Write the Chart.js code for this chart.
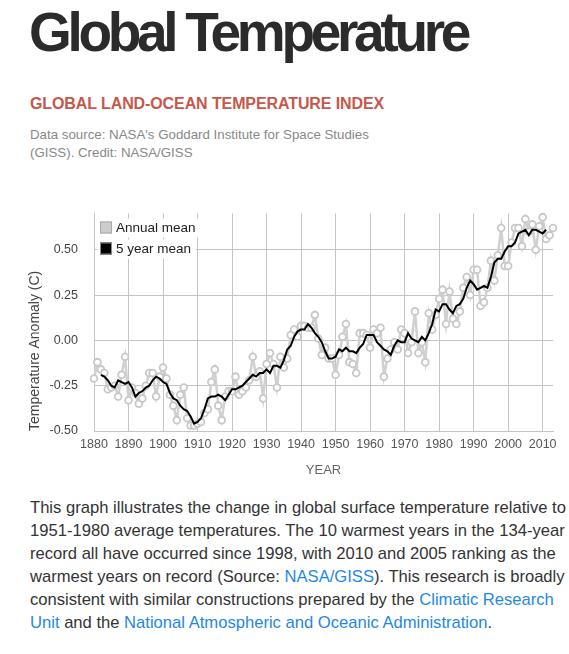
<!DOCTYPE html>
<html>
<head>
<meta charset="utf-8">
<title>Global Temperature</title>
<script src="https://cdn.jsdelivr.net/npm/chart.js@4/dist/chart.umd.min.js"></script>
<style>
  body { margin: 0; background: #fff; font-family: "Liberation Sans", Arial, sans-serif; }
  .page { position: relative; width: 569px; height: 654px; overflow: hidden; }
  h1 { position: absolute; left: 29px; top: 5px; margin: 0; font-size: 55px; line-height: 55px; font-weight: bold; color: #2b2b2b; letter-spacing: -4.3px; white-space: nowrap; }
  h2 { position: absolute; left: 30px; top: 95px; margin: 0; font-size: 16px; line-height: 18px; font-weight: bold; color: #c8574b; letter-spacing: -0.1px; white-space: nowrap; }
  .source { position: absolute; left: 30px; top: 126px; font-size: 13.3px; line-height: 18px; color: #888; white-space: nowrap; }
  .chart-box { position: absolute; left: 0; top: 190px; width: 569px; height: 297px; }
  .text { position: absolute; left: 30px; top: 496px; font-size: 16.6px; line-height: 23px; color: #333; white-space: nowrap; }
  .text a { color: #1e88e5; text-decoration: none; }
</style>
</head>
<body>
<div class="page">
  <h1>Global Temperature</h1>
  <h2>GLOBAL LAND-OCEAN TEMPERATURE INDEX</h2>
  <div class="source">Data source: NASA's Goddard Institute for Space Studies<br>(GISS). Credit: NASA/GISS</div>
  <div class="chart-box"><canvas id="temp-chart"></canvas></div>
  <div class="text">
    This graph illustrates the change in global surface temperature relative to<br>
    1951-1980 average temperatures. The 10 warmest years in the 134-year<br>
    record all have occurred since 1998, with 2010 and 2005 ranking as the<br>
    warmest years on record (Source: <a href="#">NASA/GISS</a>). This research is broadly<br>
    consistent with similar constructions prepared by the <a href="#">Climatic Research</a><br>
    <a href="#">Unit</a> and the <a href="#">National Atmospheric and Oceanic Administration</a>.
  </div>
</div>
<script>
// Global land-ocean temperature index (anomaly, C)
const years = [
  1880, 1881, 1882, 1883, 1884, 1885, 1886, 1887, 1888, 1889,
  1890, 1891, 1892, 1893, 1894, 1895, 1896, 1897, 1898, 1899,
  1900, 1901, 1902, 1903, 1904, 1905, 1906, 1907, 1908, 1909,
  1910, 1911, 1912, 1913, 1914, 1915, 1916, 1917, 1918, 1919,
  1920, 1921, 1922, 1923, 1924, 1925, 1926, 1927, 1928, 1929,
  1930, 1931, 1932, 1933, 1934, 1935, 1936, 1937, 1938, 1939,
  1940, 1941, 1942, 1943, 1944, 1945, 1946, 1947, 1948, 1949,
  1950, 1951, 1952, 1953, 1954, 1955, 1956, 1957, 1958, 1959,
  1960, 1961, 1962, 1963, 1964, 1965, 1966, 1967, 1968, 1969,
  1970, 1971, 1972, 1973, 1974, 1975, 1976, 1977, 1978, 1979,
  1980, 1981, 1982, 1983, 1984, 1985, 1986, 1987, 1988, 1989,
  1990, 1991, 1992, 1993, 1994, 1995, 1996, 1997, 1998, 1999,
  2000, 2001, 2002, 2003, 2004, 2005, 2006, 2007, 2008, 2009,
  2010, 2011, 2012, 2013,
];

const annualMean = [
  -0.21, -0.12, -0.16, -0.18, -0.27, -0.26, -0.25, -0.31, -0.19, -0.09,
  -0.33, -0.26, -0.29, -0.35, -0.32, -0.25, -0.18, -0.18, -0.31, -0.20,
  -0.15, -0.21, -0.30, -0.36, -0.44, -0.30, -0.26, -0.43, -0.47, -0.47,
  -0.46, -0.45, -0.40, -0.38, -0.23, -0.16, -0.36, -0.44, -0.31, -0.28,
  -0.28, -0.20, -0.30, -0.28, -0.26, -0.22, -0.09, -0.20, -0.17, -0.32,
  -0.13, -0.07, -0.13, -0.26, -0.09, -0.15, -0.10, 0.03, 0.06, 0.02,
  0.08, 0.08, 0.07, 0.07, 0.14, 0.01, -0.08, -0.04, -0.10, -0.10,
  -0.19, -0.08, 0.02, 0.09, -0.12, -0.13, -0.18, 0.04, 0.04, 0.03,
  -0.04, 0.06, 0.04, 0.07, -0.20, -0.10, -0.05, -0.01, -0.05, 0.06,
  0.04, -0.07, -0.01, 0.16, -0.07, -0.01, -0.12, 0.15, 0.06, 0.14,
  0.23, 0.28, 0.09, 0.27, 0.12, 0.09, 0.16, 0.29, 0.35, 0.25,
  0.39, 0.39, 0.19, 0.21, 0.29, 0.44, 0.33, 0.47, 0.62, 0.41,
  0.41, 0.54, 0.62, 0.62, 0.52, 0.67, 0.60, 0.64, 0.50, 0.63,
  0.68, 0.56, 0.58, 0.62,
];

// 5 year mean, 1882 to 2011
const fiveYearMean = [
  -0.19, -0.20, -0.22, -0.25, -0.26, -0.22, -0.23, -0.24,
  -0.23, -0.26, -0.31, -0.29, -0.28, -0.26, -0.25, -0.22, -0.20, -0.21,
  -0.23, -0.24, -0.29, -0.32, -0.33, -0.36, -0.38, -0.39, -0.42, -0.46,
  -0.45, -0.43, -0.38, -0.32, -0.31, -0.31, -0.30, -0.31, -0.33, -0.30,
  -0.27, -0.27, -0.26, -0.25, -0.23, -0.21, -0.19, -0.20, -0.18, -0.18,
  -0.16, -0.18, -0.14, -0.14, -0.15, -0.11, -0.05, -0.03, 0.02, 0.05,
  0.06, 0.06, 0.09, 0.07, 0.04, 0.02, -0.01, -0.06, -0.10, -0.10,
  -0.09, -0.05, -0.06, -0.04, -0.06, -0.06, -0.07, -0.04, -0.02, 0.03,
  0.03, 0.03, -0.01, -0.03, -0.05, -0.06, -0.08, -0.03, 0.00, -0.01,
  -0.01, 0.04, 0.01, 0.00, -0.01, 0.02, 0.00, 0.04, 0.09, 0.17,
  0.16, 0.20, 0.20, 0.17, 0.15, 0.19, 0.20, 0.23, 0.29, 0.33,
  0.31, 0.28, 0.29, 0.30, 0.29, 0.35, 0.43, 0.45, 0.45, 0.49,
  0.52, 0.52, 0.54, 0.59, 0.60, 0.61, 0.58, 0.61, 0.61, 0.60,
  0.59, 0.61,
];
const fiveYearYears = years.slice(2, 2 + fiveYearMean.length);

const xTicks = [1880, 1890, 1900, 1910, 1920, 1930, 1940, 1950, 1960, 1970, 1980, 1990, 2000, 2010];
const yTicks = [-0.5, -0.25, 0, 0.25, 0.5];

const legendItems = [
  { label: "Annual mean", fill: "#cccccc", stroke: "#a8a8a8" },
  { label: "5 year mean", fill: "#000000", stroke: "#8a8a8a" },
];

Chart.defaults.font.family = '"Liberation Sans", Arial, sans-serif';

// legend boxes sit inside the plot, top left, on white
const boxLegend = {
  id: "boxLegend",
  beforeDatasetsDraw(chart) {
    const { ctx, chartArea } = chart;
    ctx.save();
    ctx.font = '13.5px "Liberation Sans", Arial, sans-serif';
    ctx.textBaseline = "middle";
    legendItems.forEach((item, i) => {
      const top = chartArea.top + 5 + i * 21;
      const left = chartArea.left + 3;
      const w = ctx.measureText(item.label).width + 24;
      ctx.fillStyle = "#fff";
      ctx.fillRect(left, top, w, 19);
      ctx.fillStyle = item.fill;
      ctx.fillRect(left + 3, top + 3, 12, 12);
      ctx.strokeStyle = item.stroke;
      ctx.lineWidth = 1;
      ctx.strokeRect(left + 3.5, top + 3.5, 11, 11);
      ctx.fillStyle = "#222";
      ctx.fillText(item.label, left + 19, top + 10);
    });
    ctx.restore();
  },
};

const gridColor = "#c4c4c4";

new Chart(document.getElementById("temp-chart"), {
  type: "line",
  data: {
    datasets: [
      {
        label: "5 year mean",
        data: fiveYearYears.map((x, i) => ({ x, y: fiveYearMean[i] })),
        borderColor: "#000",
        borderWidth: 2,
        pointRadius: 0,
        order: 0,
      },
      {
        label: "Annual mean",
        data: years.map((x, i) => ({ x, y: annualMean[i] })),
        borderColor: "#d0d0d0",
        borderWidth: 2.5,
        pointRadius: 3.4,
        pointBorderWidth: 1.8,
        pointBackgroundColor: "#fff",
        pointBorderColor: "#c8c8c8",
        clip: 6,
        order: 1,
      },
    ],
  },
  options: {
    responsive: true,
    maintainAspectRatio: false,
    animation: false,
    layout: { padding: { top: 17, right: 16, bottom: 0, left: 0 } },
    plugins: { legend: { display: false }, tooltip: { enabled: false } },
    scales: {
      x: {
        type: "linear",
        min: 1880,
        max: 2013,
        afterBuildTicks: (axis) => { axis.ticks = xTicks.map((v) => ({ value: v })); },
        afterFit: (s) => { s.height = 56; },
        grid: { color: gridColor, drawTicks: false },
        border: { color: gridColor },
        ticks: { padding: 6, color: "#555", font: { size: 12.5 }, maxRotation: 0, autoSkip: false, callback: (v) => String(v) },
        title: { display: true, text: "YEAR", color: "#666", font: { size: 13 }, padding: { top: 11, bottom: 9 } },
      },
      y: {
        min: -0.5,
        max: 0.7,
        afterBuildTicks: (axis) => { axis.ticks = yTicks.map((v) => ({ value: v })); },
        afterFit: (s) => { s.width = 94; },
        grid: { color: gridColor, drawTicks: false },
        border: { color: gridColor },
        ticks: { padding: 16, color: "#444", font: { size: 12.5 }, callback: (v) => v.toFixed(2) },
        title: { display: true, text: "Temperature Anomaly (C)", align: "start", color: "#444", font: { size: 14 }, padding: { top: 27, bottom: 0 } },
      },
    },
  },
  plugins: [boxLegend],
});
</script>
</body>
</html>
